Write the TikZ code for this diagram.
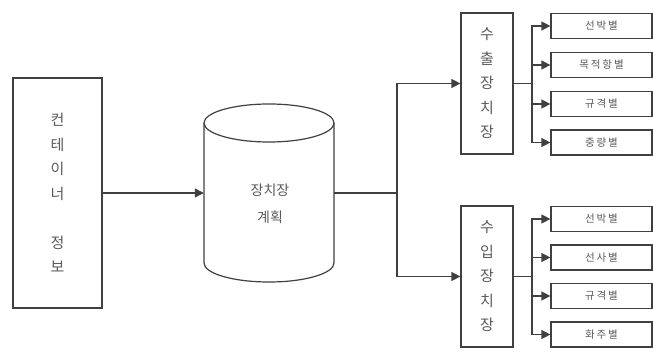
\documentclass[tikz,border=0pt]{standalone}
\usepackage{fontspec}
\setmainfont{Noto Sans CJK KR}
\newfontfamily\cjkw[LetterSpace=18]{Noto Sans CJK KR}
\usetikzlibrary{arrows.meta}
\definecolor{ln}{HTML}{404040}
\definecolor{tx}{HTML}{5A5A5A}
\tikzset{
  box/.style={draw=ln, line width=1.2pt, fill=white, text=tx, inner sep=0pt, align=center},
  vtext/.style={font=\fontsize{15}{24.5}\selectfont},
  small/.style={box, minimum width=101pt, minimum height=25pt, font=\cjkw\fontsize{10.5}{12}\selectfont},
  conn/.style={draw=ln, line width=1.2pt},
  arr/.style={conn, -{Triangle[length=9pt,width=9pt]}},
}
\begin{document}
\begin{tikzpicture}[x=1pt,y=-1pt]
\useasboundingbox (0,0) rectangle (653,352);
% left box
\node[box, vtext, minimum width=89pt, minimum height=230pt] (info) at (57.5,193) {컨\\테\\이\\너\\[24.5pt]정\\보};
% cylinder
\node[minimum width=130pt, minimum height=180pt, inner sep=0pt] (cyl) at (269,193) {};
\draw[ln, line width=1.2pt, fill=white] (204,123) -- (204,263) arc[start angle=180, end angle=0, x radius=65, y radius=19] -- (334,123);
\draw[ln, line width=1.2pt, fill=white] (269,123) ellipse[x radius=65, y radius=19];
\node[text=tx, font=\fontsize{14}{27}\selectfont, align=center] (cyltext) at (270,204) {장치장\\계획};
% export / import boxes
\node[box, vtext, minimum width=52pt, minimum height=141pt] (exp) at (487,83.5) {수\\출\\장\\치\\장};
\node[box, vtext, minimum width=52pt, minimum height=141pt] (imp) at (487,276.5) {수\\입\\장\\치\\장};
% small boxes
\node[small] (e1) at (601.5,26) {선박별};
\node[small] (e2) at (601.5,65) {목적항별};
\node[small] (e3) at (601.5,104) {규격별};
\node[small] (e4) at (601.5,142.5) {중량별};
\node[small] (i1) at (601.5,219) {선박별};
\node[small] (i2) at (601.5,257.5) {선사별};
\node[small] (i3) at (601.5,296) {규격별};
\node[small] (i4) at (601.5,334.5) {화주별};
% connectors
\draw[arr] (info.east) -- (cyl.west);
\coordinate (split) at (397,193);
\draw[conn] (cyl.east) -- (split);
\draw[arr] (split) |- (exp.west);
\draw[arr] (split) |- (imp.west);
\coordinate (es) at (532,83.5);
\draw[conn] (exp.east) -- (es);
\foreach \n in {e1,e2,e3,e4} \draw[arr] (es) |- (\n.west);
\coordinate (is) at (532,276.5);
\draw[conn] (imp.east) -- (is);
\foreach \n in {i1,i2,i3,i4} \draw[arr] (is) |- (\n.west);
\end{tikzpicture}
\end{document}
